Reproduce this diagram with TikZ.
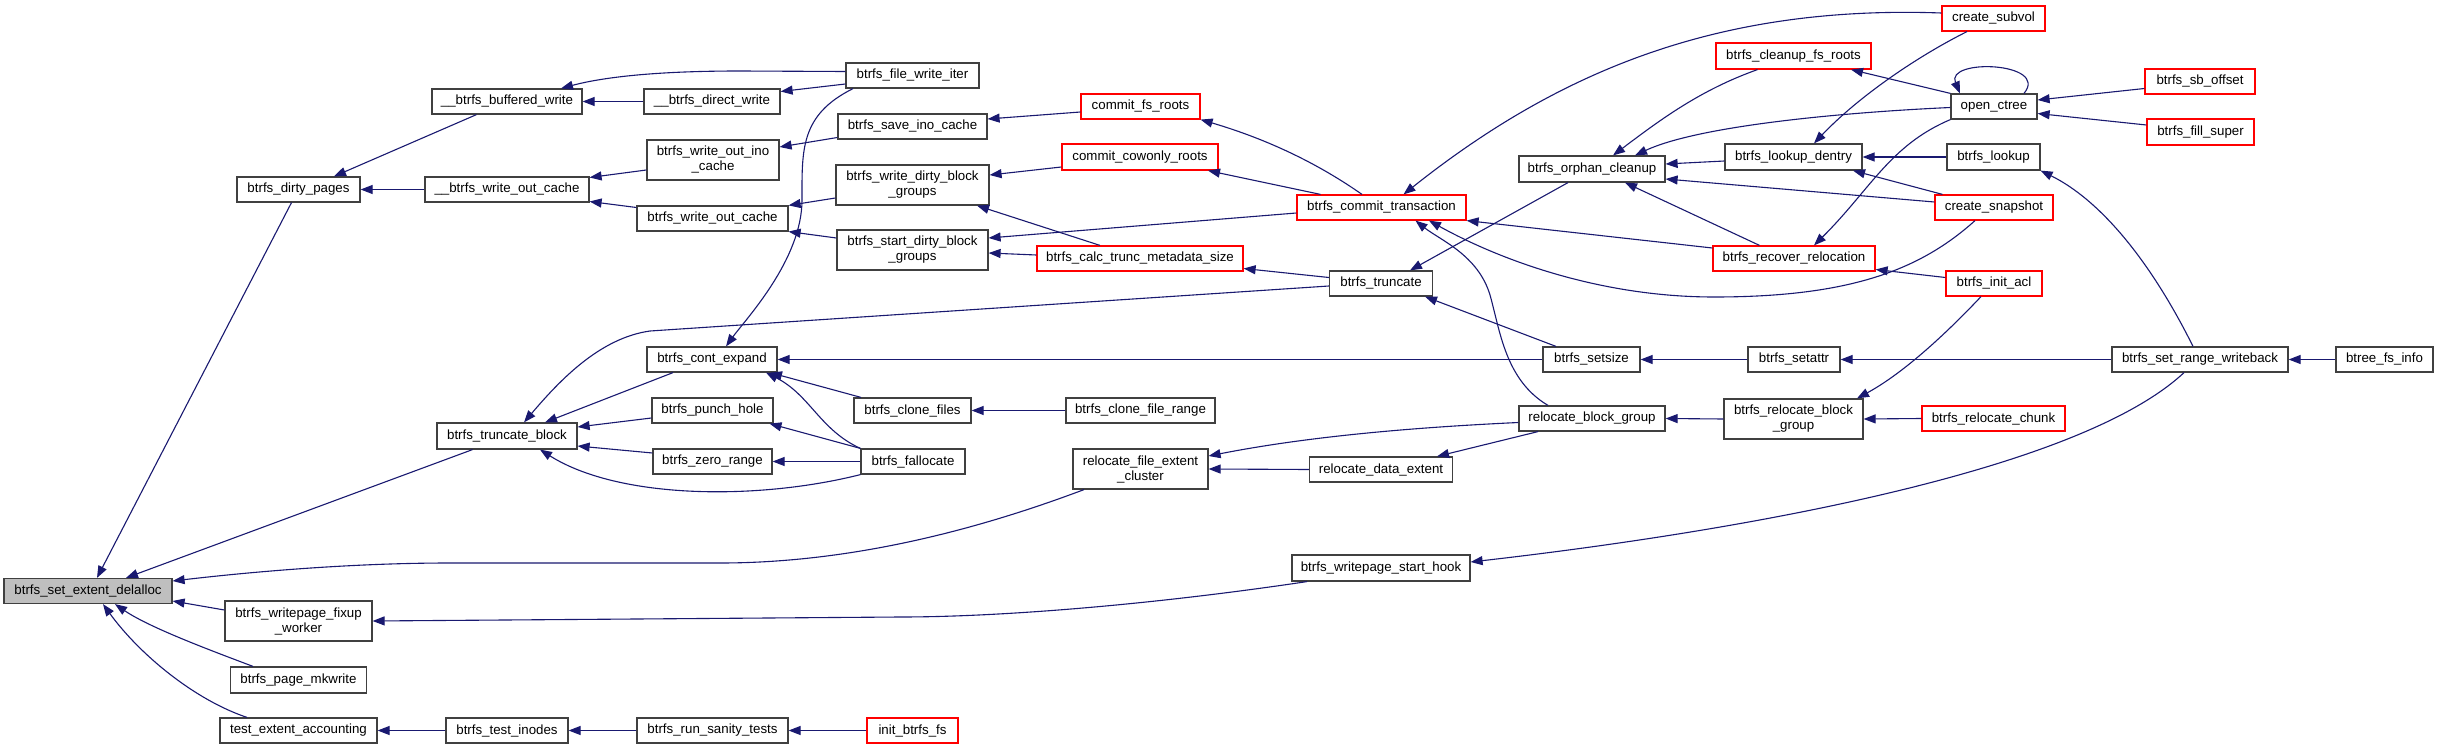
\documentclass[tikz,border=0pt]{standalone}
\usepackage{fontspec}
\setmainfont{Liberation Sans}
\usetikzlibrary{arrows.meta}
\definecolor{edgecol}{RGB}{25,25,112}
\definecolor{boxgray}{RGB}{191,191,191}
\begin{document}
\begin{tikzpicture}[x=1pt,y=-1pt,
 fn/.style={draw=black!75, line width=1.2pt, fill=white, inner sep=0pt, minimum height=25pt, font=\fontsize{13.3}{15}\selectfont, align=center},
 fnred/.style={fn, draw=red},
 fntwo/.style={fn, minimum height=40pt},
 cl/.style={draw=edgecol, line width=1.1pt, -{Triangle[length=12pt,width=9pt]}}]
\useasboundingbox (0,0) rectangle (2439,749);
\fill[white] (0,0) rectangle (2439,749);
% nodes
\node[fn, fill=boxgray, minimum width=168pt] (delalloc) at (88,591) {btrfs\_set\_extent\_delalloc};
\node[fn, minimum width=123pt] (dirty) at (298.5,189.5) {btrfs\_dirty\_pages};
\node[fn, minimum width=150pt] (bufw) at (507,101.5) {\_\_btrfs\_buffered\_write};
\node[fn, minimum width=164pt] (woctwo) at (507,189.5) {\_\_btrfs\_write\_out\_cache};
\node[fn, minimum width=140pt, minimum height=26pt] (tblock) at (507,436) {btrfs\_truncate\_block};
\node[fntwo, minimum width=147pt] (fixup) at (298.5,621) {btrfs\_writepage\_fixup\\\_worker};
\node[fn, minimum width=136pt, minimum height=26pt] (mkwrite) at (298.5,680) {btrfs\_page\_mkwrite};
\node[fn, minimum width=157pt] (tea) at (298.5,730.5) {test\_extent\_accounting};
\node[fn, minimum width=122pt] (tinodes) at (507,730.5) {btrfs\_test\_inodes};
\node[fn, minimum width=133pt] (fwi) at (912.5,75.5) {btrfs\_file\_write\_iter};
\node[fn, minimum width=136pt] (dw) at (712,101.5) {\_\_btrfs\_direct\_write};
\node[fn, minimum width=149pt] (sic) at (912.5,126.5) {btrfs\_save\_ino\_cache};
\node[fntwo, minimum width=132pt] (woic) at (713,160) {btrfs\_write\_out\_ino\\\_cache};
\node[fn, minimum width=151pt] (woc) at (712.5,218.5) {btrfs\_write\_out\_cache};
\node[fntwo, minimum width=153pt] (wdbg) at (912.5,185) {btrfs\_write\_dirty\_block\\\_groups};
\node[fntwo, minimum width=151pt] (sdbg) at (912.5,250) {btrfs\_start\_dirty\_block\\\_groups};
\node[fnred, minimum width=119pt] (cfr) at (1140.5,106.5) {commit\_fs\_roots};
\node[fnred, minimum width=156pt, minimum height=26pt] (ccr) at (1140,157) {commit\_cowonly\_roots};
\node[fnred, minimum width=206pt] (calc) at (1140,258.5) {btrfs\_calc\_trunc\_metadata\_size};
\node[fn, minimum width=130pt] (cexp) at (712,359.5) {btrfs\_cont\_expand};
\node[fn, minimum width=121pt] (punch) at (712.5,410.5) {btrfs\_punch\_hole};
\node[fn, minimum width=119pt] (zero) at (712.5,461.5) {btrfs\_zero\_range};
\node[fn, minimum width=117pt] (clonef) at (912.5,410.5) {btrfs\_clone\_files};
\node[fn, minimum width=104pt] (falloc) at (913,461.5) {btrfs\_fallocate};
\node[fn, minimum width=149pt] (clonefr) at (1140.5,410.5) {btrfs\_clone\_file\_range};
\node[fntwo, minimum width=135pt] (cluster) at (1140.5,469) {relocate\_file\_extent\\\_cluster};
\node[fn, minimum width=151pt] (sanity) at (712.5,730.5) {btrfs\_run\_sanity\_tests};
\node[fnred, minimum width=91pt] (initfs) at (912.5,730.5) {init\_btrfs\_fs};
\node[fnred, minimum width=169pt] (commit) at (1381.5,207.5) {btrfs\_commit\_transaction};
\node[fn, minimum width=103pt] (trunc) at (1381,283.5) {btrfs\_truncate};
\node[fn, minimum width=146pt, minimum height=26pt] (orphan) at (1592,169) {btrfs\_orphan\_cleanup};
\node[fn, minimum width=97pt] (setsize) at (1591.5,359.5) {btrfs\_setsize};
\node[fnred, minimum width=155pt, minimum height=26pt] (cleanup) at (1793.5,56) {btrfs\_cleanup\_fs\_roots};
\node[fn, minimum width=137pt, minimum height=26pt] (ldentry) at (1793.5,157) {btrfs\_lookup\_dentry};
\node[fnred, minimum width=162pt] (recover) at (1794,258.5) {btrfs\_recover\_relocation};
\node[fn, minimum width=92pt] (setattr) at (1794,359.5) {btrfs\_setattr};
\node[fn, minimum width=146pt] (rbg) at (1592,418.5) {relocate\_block\_group};
\node[fn, minimum width=143pt] (rde) at (1381,469.5) {relocate\_data\_extent};
\node[fn, minimum width=178pt, minimum height=26pt] (shook) at (1381,568) {btrfs\_writepage\_start\_hook};
\node[fntwo, minimum width=139pt] (brbg) at (1793.5,419) {btrfs\_relocate\_block\\\_group};
\node[fnred, minimum width=103pt] (subvol) at (1993.5,18.5) {create\_subvol};
\node[fn, minimum width=86pt] (octree) at (1994,106.5) {open\_ctree};
\node[fn, minimum width=93pt, minimum height=26pt] (lookup) at (1993.5,157) {btrfs\_lookup};
\node[fnred, minimum width=118pt] (snap) at (1994,207.5) {create\_snapshot};
\node[fnred, minimum width=96pt] (acl) at (1994,283.5) {btrfs\_init\_acl};
\node[fnred, minimum width=110pt] (sboff) at (2200,81.5) {btrfs\_sb\_offset};
\node[fnred, minimum width=107pt, minimum height=26pt] (fsuper) at (2200.5,132) {btrfs\_fill\_super};
\node[fn, minimum width=176pt] (srw) at (2200,359.5) {btrfs\_set\_range\_writeback};
\node[fn, minimum width=97pt] (btfi) at (2384.5,359.5) {btree\_fs\_info};
\node[fnred, minimum width=143pt] (rchunk) at (1993.5,418.5) {btrfs\_relocate\_chunk};
% edges
\draw[cl] ([xshift=-7pt]dirty.south) -- ([xshift=9pt]delalloc.north);
\draw[cl] ([xshift=-34.5pt]tblock.south) -- ([xshift=38pt]delalloc.north);
\draw[cl] ([xshift=-56.5pt]cluster.south) .. controls (990,525) and (860,563) .. (720,563) -- (450,563) .. controls (350,563) and (250,572) .. ([yshift=10pt]delalloc.east);
\draw[cl] ([yshift=11pt]fixup.west) -- ([yshift=-10pt]delalloc.east);
\draw[cl] ([xshift=-45.5pt]mkwrite.north) .. controls (215,652) and (150,628) .. ([xshift=27pt]delalloc.south);
\draw[cl] ([xshift=-51.5pt]tea.north) .. controls (195,700) and (140,655) .. ([xshift=15pt]delalloc.south);
\draw[cl] ([xshift=-30.5pt]bufw.south) -- ([xshift=35.5pt]dirty.north);
\draw[cl] (woctwo.west) -- (dirty.east);
\draw[cl] ([yshift=4pt]fwi.west) -- (740,71) .. controls (650,71) and (600,78) .. ([xshift=54pt]bufw.north);
\draw[cl] (dw.west) -- (bufw.east);
\draw[cl] ([yshift=-10pt]woic.west) -- ([yshift=12pt]woctwo.east);
\draw[cl] ([yshift=11pt]woc.west) -- ([yshift=-12pt]woctwo.east);
\draw[cl] ([yshift=-8.5pt]fwi.west) -- ([yshift=10pt]dw.east);
\draw[cl] ([xshift=-59.5pt]fwi.south) .. controls (800,115) and (802,150) .. (802,200) .. controls (802,260) and (745,320) .. ([xshift=14pt]cexp.north);
\draw[cl] ([yshift=-11pt]sic.west) -- ([yshift=13pt]woic.east);
\draw[cl] ([yshift=-13pt]wdbg.west) -- (woc.north east);
\draw[cl] ([yshift=12pt]sdbg.west) -- (woc.south east);
\draw[cl] ([yshift=-5.5pt]cfr.west) -- ([yshift=7.5pt]sic.east);
\draw[cl] ([yshift=-10pt]ccr.west) -- ([yshift=10pt]wdbg.east);
\draw[cl] ([xshift=-40pt]calc.north) -- ([xshift=64.5pt]wdbg.south);
\draw[cl] ([yshift=3.5pt]calc.west) -- ([yshift=-3pt]sdbg.east);
\draw[cl] ([yshift=-5.5pt]commit.west) -- ([yshift=12pt]sdbg.east);
\draw[cl] ([xshift=-19.5pt]commit.north) .. controls (1320,165) and (1270,140) .. (cfr.south east);
\draw[cl] ([xshift=-61pt]commit.north) -- ([xshift=68pt]ccr.south);
\draw[cl] ([yshift=6pt]trunc.west) -- ([yshift=-10pt]calc.east);
\draw[cl] ([yshift=-2.5pt]trunc.west) -- (650,331) .. controls (600,338) and (560,380) .. ([xshift=17pt]tblock.north);
\draw[cl] ([xshift=-39pt]cexp.south) -- ([xshift=38pt]tblock.north);
\draw[cl] ([yshift=-7.5pt]punch.west) -- ([yshift=9pt]tblock.east);
\draw[cl] ([yshift=8.5pt]zero.west) -- ([yshift=-10pt]tblock.east);
\draw[cl] (falloc.south west) .. controls (760,500) and (620,500) .. ([xshift=33pt]tblock.south);
\draw[cl] (setsize.west) -- (cexp.east);
\draw[cl] ([xshift=-51.5pt]clonef.north) -- ([xshift=58pt]cexp.south);
\draw[cl] (falloc.north west) .. controls (820,430) and (810,395) .. ([xshift=54pt]cexp.south);
\draw[cl] (falloc.north west) -- ([xshift=57pt]punch.south);
\draw[cl] (falloc.west) -- (zero.east);
\draw[cl] (clonefr.west) -- (clonef.east);
\draw[cl] ([yshift=-4pt]rbg.west) .. controls (1400,428) and (1300,438) .. ([yshift=13pt]cluster.east);
\draw[cl] (rde.west) -- (cluster.east);
\draw[cl] ([xshift=-54pt]rbg.south) -- ([xshift=56pt]rde.north);
\draw[cl] ([xshift=-74pt]shook.south) .. controls (1150,605) and (1000,617) .. (900,617) -- (fixup.east);
\draw[cl] ([xshift=-16pt]srw.south) .. controls (2080,470) and (1750,530) .. ([yshift=6pt]shook.east);
\draw[cl] ([xshift=-7pt]srw.north) .. controls (2150,260) and (2100,200) .. (lookup.south east);
\draw[cl] (btfi.west) -- (srw.east);
\draw[cl] (srw.west) -- (setattr.east);
\draw[cl] (setattr.west) -- (setsize.east);
\draw[cl] ([xshift=-35.5pt]setsize.north) -- ([xshift=44pt]trunc.south);
\draw[cl] ([xshift=-24pt]orphan.south) -- ([xshift=29pt]trunc.north);
\draw[cl] ([xshift=-36pt]cleanup.south) .. controls (1700,90) and (1660,120) .. ([xshift=21pt]orphan.north);
\draw[cl] ([yshift=-1pt]octree.west) .. controls (1850,112) and (1700,125) .. ([xshift=43pt]orphan.north);
\draw[cl] ([yshift=-4pt]ldentry.west) -- ([yshift=5pt]orphan.east);
\draw[cl] ([yshift=5.5pt]snap.west) -- ([yshift=-10pt]orphan.east);
\draw[cl] ([xshift=-34.5pt]recover.north) -- ([xshift=33pt]orphan.south);
\draw[cl] ([yshift=10.5pt]recover.west) -- (commit.south east);
\draw[cl] ([xshift=-19pt]snap.south) .. controls (1920,270) and (1850,297) .. (1714,297) .. controls (1600,297) and (1500,260) .. ([xshift=47.5pt]commit.south);
\draw[cl] ([xshift=-44pt]rbg.north) .. controls (1505,380) and (1500,330) .. (1490,295) .. controls (1478,255) and (1440,240) .. ([xshift=34pt]commit.south);
\draw[cl] ([yshift=5.5pt]subvol.west) .. controls (1720,5) and (1560,70) .. ([xshift=22pt]commit.north);
\draw[cl] ([xshift=-26.5pt]subvol.south) .. controls (1920,55) and (1860,95) .. ([xshift=20.5pt]ldentry.north);
\draw[cl] (octree.north west) -- ([xshift=57.5pt]cleanup.south);
\draw[cl] (lookup.west) -- (ldentry.east);
\draw[cl] ([xshift=-51.5pt]snap.north) -- ([xshift=59.5pt]ldentry.south);
\draw[cl] (octree.south west) .. controls (1890,145) and (1870,190) .. ([xshift=20pt]recover.north);
\draw[cl] ([yshift=6pt]acl.west) -- ([yshift=-11pt]recover.east);
\draw[cl] ([xshift=-13pt]acl.south) .. controls (1940,340) and (1900,375) .. ([xshift=63.5pt]brbg.north);
\draw[cl] (rchunk.west) -- (brbg.east);
\draw[cl] (brbg.west) -- (rbg.east);
\draw[cl] ([xshift=30pt]octree.north) .. controls (2050,62) and (1945,58) .. ([xshift=-34pt]octree.north);
\draw[cl] ([yshift=-7pt]sboff.west) -- ([yshift=6.5pt]octree.east);
\draw[cl] ([yshift=7pt]fsuper.west) -- ([yshift=-7pt]octree.east);
\draw[cl] (tinodes.west) -- (tea.east);
\draw[cl] (sanity.west) -- (tinodes.east);
\draw[cl] (initfs.west) -- (sanity.east);
\end{tikzpicture}
\end{document}
